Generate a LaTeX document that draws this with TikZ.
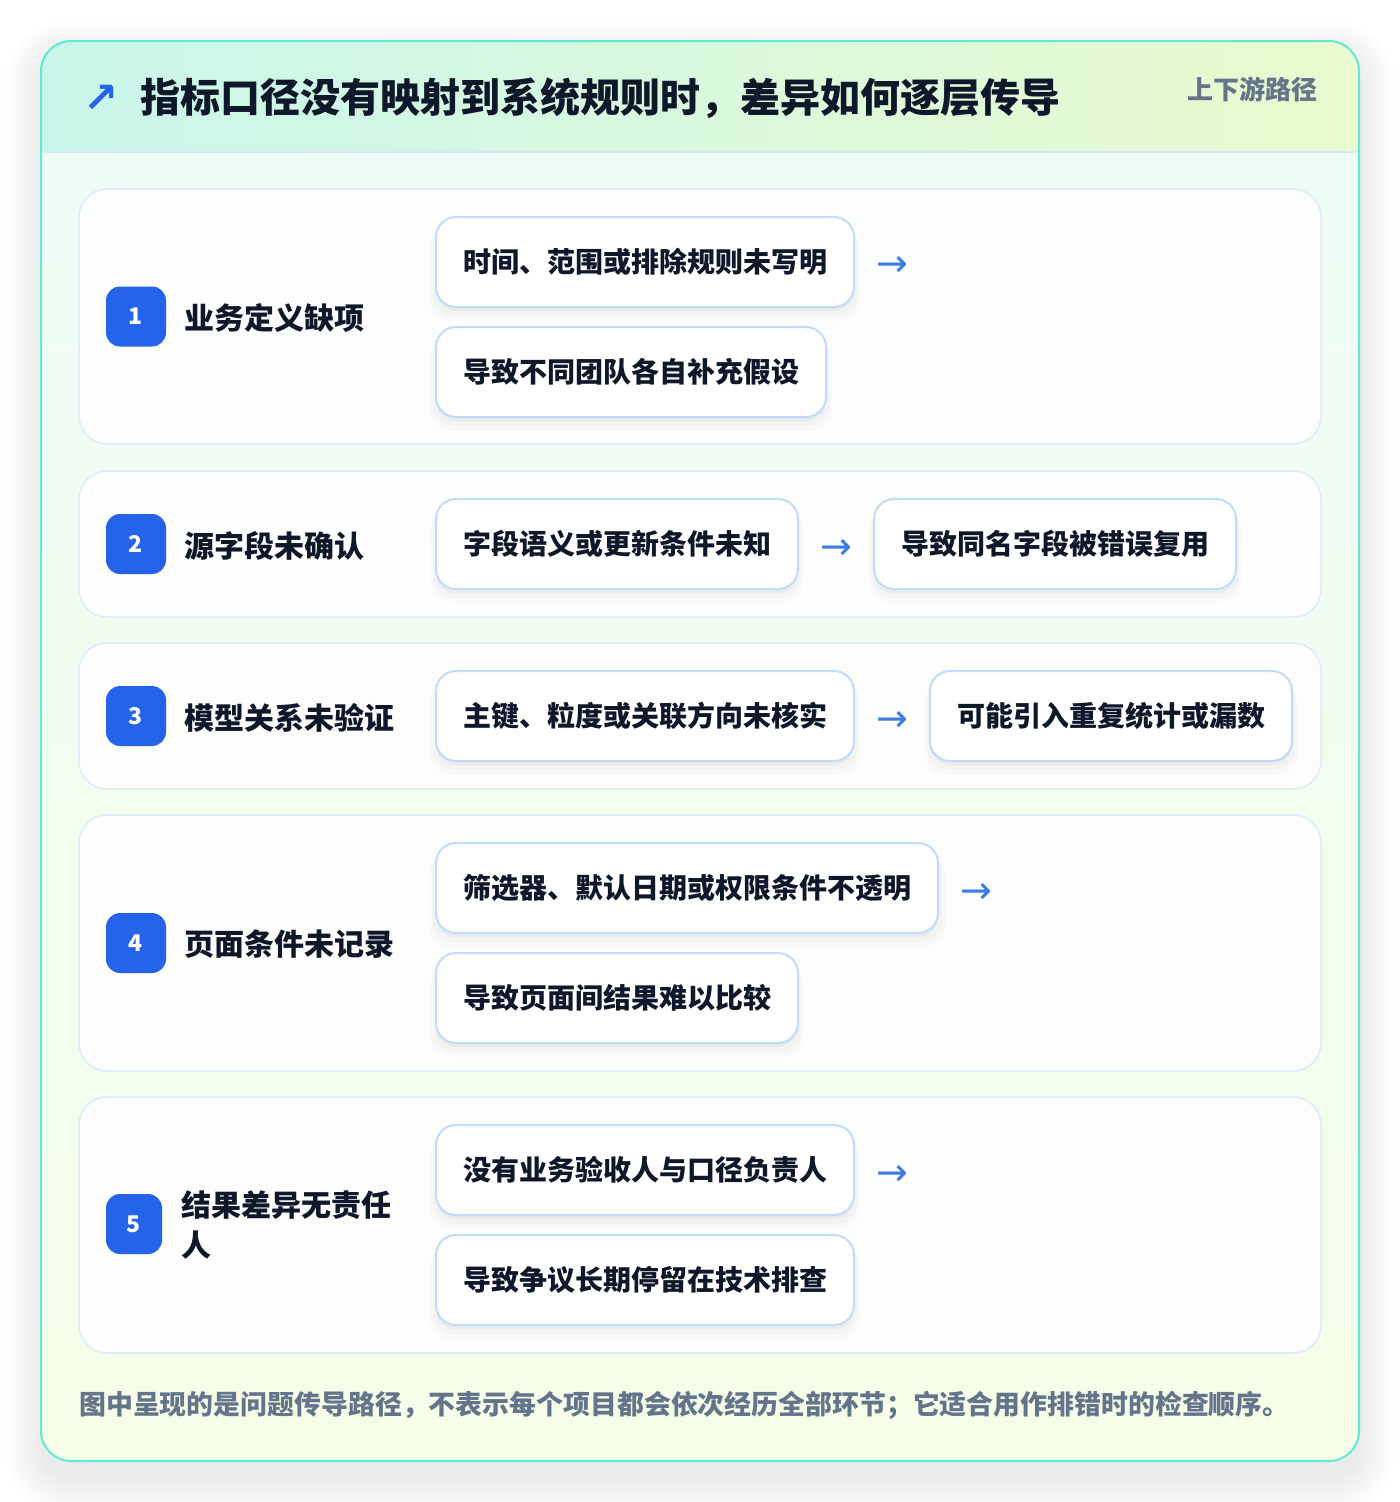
\documentclass[tikz,border=0pt]{standalone}
\usepackage{fontspec}
\setmainfont{Noto Sans CJK SC}
\newfontfamily\symf{DejaVu Sans}
\usetikzlibrary{shadows}
\definecolor{ink}{HTML}{0F172A}
\definecolor{muted}{HTML}{64748B}
\definecolor{badgec}{HTML}{2563EB}
\definecolor{arrowc}{HTML}{3B7DE3}
\definecolor{cardline}{HTML}{5EEAD4}
\definecolor{rowline}{HTML}{DBEAFE}
\definecolor{boxline}{HTML}{BFDBFE}
\definecolor{hdrL}{HTML}{C9F6EB}
\definecolor{hdrR}{HTML}{E9FBCF}
\definecolor{bodyT}{HTML}{EFFDF8}
\definecolor{bodyB}{HTML}{F6FEE8}
\definecolor{hdrline}{HTML}{D6E8F5}
\tikzset{
  rowcard/.style={draw=rowline, line width=1.5pt, fill=white, fill opacity=0.85,
    rounded corners=28pt, minimum width=1242pt, inner sep=0pt},
  stepbox/.style={draw=boxline, line width=2pt, fill=white, rounded corners=20pt,
    minimum height=90pt, inner xsep=27pt, inner ysep=0pt, text=ink, anchor=west,
    font=\fontsize{28}{34}\selectfont\bfseries,
    drop shadow={shadow xshift=0pt, shadow yshift=-4pt, shadow scale=1.0, fill=black, opacity=0.035},
    drop shadow={shadow xshift=0pt, shadow yshift=-8pt, shadow scale=1.015, fill=black, opacity=0.025},
    drop shadow={shadow xshift=0pt, shadow yshift=-12pt, shadow scale=1.03, fill=black, opacity=0.015}},
  badgebox/.style={fill=badgec, rounded corners=14pt, minimum width=60pt, minimum height=60pt,
    inner sep=0pt, text=white, font=\fontsize{23}{23}\selectfont\bfseries},
  rowlabel/.style={anchor=west, text=ink, font=\fontsize{30}{40}\selectfont\bfseries,
    inner sep=0pt, align=left},
  flow/.style={text=arrowc, font=\symf\fontsize{38}{38}\selectfont, inner sep=0pt},
}
\begin{document}
\begin{tikzpicture}[x=1pt,y=-1pt]
\useasboundingbox (0,0) rectangle (1400,1502);
\fill[white] (0,0) rectangle (1400,1502);
% outer card soft shadow
\foreach \i in {1,...,20}{
  \fill[black, opacity=0.0045, rounded corners=30pt+\i*1.5pt]
    (41-\i*1.8, 41-\i*1.8+16) rectangle (1359+\i*1.8, 1461+\i*1.8+16);
}
\begin{scope}
  \clip[rounded corners=30pt] (41,41) rectangle (1359,1461);
  \shade[top color=bodyT, bottom color=bodyB] (41,41) rectangle (1359,1461);
  \shade[left color=hdrL, right color=hdrR] (41,41) rectangle (1359,152);
  \draw[hdrline, line width=1.5pt] (41,152) -- (1359,152);
\end{scope}
\draw[cardline, line width=2pt, rounded corners=30pt] (41,41) rectangle (1359,1461);

% header
\node[flow, text=badgec, font=\symf\bfseries\fontsize{42}{42}\selectfont] (icon) at (101,99) {↗};
\node[anchor=west, inner sep=0pt, text=ink, font=\fontsize{40}{46}\selectfont\bfseries] (title) at (140,98)
  {指标口径没有映射到系统规则时，差异如何逐层传导};
\node[anchor=east, inner sep=0pt, text=muted, font=\fontsize{26}{30}\selectfont\bfseries] (tag) at (1318,89)
  {上下游路径};

% row cards
\node[rowcard, minimum height=255pt] (row1) at (700,316.5) {};
\node[rowcard, minimum height=146pt] (row2) at (700,544) {};
\node[rowcard, minimum height=146pt] (row3) at (700,716) {};
\node[rowcard, minimum height=256pt] (row4) at (700,943) {};
\node[rowcard, minimum height=256pt] (row5) at (700,1225) {};

% row 1
\node[badgebox] (b1) at (136,316.5) {\raisebox{-1.5pt}{1}};
\node[rowlabel] (l1) at (184,318) {业务定义缺项};
\node[stepbox] (s1a) at (435,262) {时间、范围或排除规则未写明};
\node[stepbox] (s1b) at (435,372) {导致不同团队各自补充假设};
\node[flow] (f1) at (892,266) {→};

% row 2
\node[badgebox] (b2) at (136,544) {\raisebox{-1.5pt}{2}};
\node[rowlabel] (l2) at (184,546) {源字段未确认};
\node[stepbox] (s2a) at (435,544) {字段语义或更新条件未知};
\node[flow] (f2) at (836,549) {→};
\node[stepbox] (s2b) at (873,544) {导致同名字段被错误复用};

% row 3
\node[badgebox] (b3) at (136,716) {\raisebox{-1.5pt}{3}};
\node[rowlabel] (l3) at (184,718) {模型关系未验证};
\node[stepbox] (s3a) at (435,716) {主键、粒度或关联方向未核实};
\node[flow] (f3) at (892,721) {→};
\node[stepbox] (s3b) at (929,716) {可能引入重复统计或漏数};

% row 4
\node[badgebox] (b4) at (136,943) {\raisebox{-1.5pt}{4}};
\node[rowlabel] (l4) at (184,944) {页面条件未记录};
\node[stepbox] (s4a) at (435,888) {筛选器、默认日期或权限条件不透明};
\node[stepbox] (s4b) at (435,998) {导致页面间结果难以比较};
\node[flow] (f4) at (976,893) {→};

% row 5
\node[badgebox, minimum width=56pt] (b5) at (134,1224) {\raisebox{-1.5pt}{5}};
\node[rowlabel] (l5) at (181,1225) {结果差异无责任\\人};
\node[stepbox] (s5a) at (435,1170) {没有业务验收人与口径负责人};
\node[stepbox] (s5b) at (435,1280) {导致争议长期停留在技术排查};
\node[flow] (f5) at (892,1175) {→};

% footer
\node[anchor=west, inner sep=0pt, text=muted, font=\fontsize{26.9}{30}\selectfont\bfseries] (note) at (79,1405)
  {图中呈现的是问题传导路径，不表示每个项目都会依次经历全部环节；它适合用作排错时的检查顺序。};
\end{tikzpicture}
\end{document}
